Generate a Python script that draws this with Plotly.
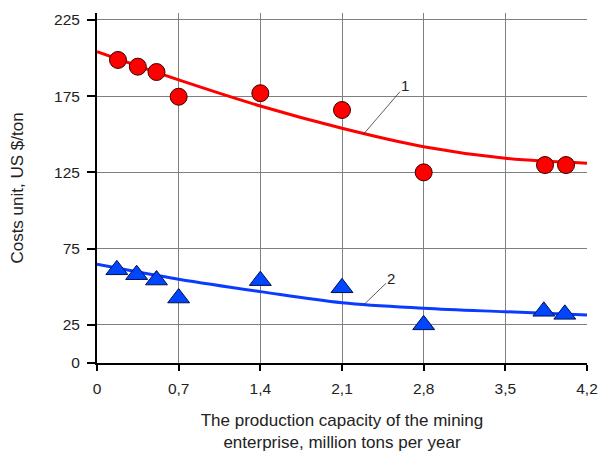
import plotly.graph_objects as go

# --- data ---
x_ticks = [0, 0.7, 1.4, 2.1, 2.8, 3.5, 4.2]
x_ticktext = ["0", "0,7", "1,4", "2,1", "2,8", "3,5", "4,2"]
y_ticks = [0, 25, 75, 125, 175, 225]

red_x = [0.18, 0.35, 0.51, 0.70, 1.40, 2.10, 2.80, 3.84, 4.02]
red_y = [198.7, 194.3, 190.8, 174.6, 176.9, 165.9, 125.0, 129.8, 129.8]

blue_x = [0.17, 0.34, 0.51, 0.70, 1.40, 2.10, 2.80, 3.83, 4.01]
blue_y = [61.1, 57.9, 54.4, 42.6, 54.0, 49.3, 25.0, 33.9, 31.9]

curve_x = [0, 0.7, 1.4, 2.1, 2.8, 3.5, 4.2]
red_curve = [204.1, 185.6, 168.5, 153.9, 141.8, 134.2, 131.0]
blue_curve = [64.7, 54.9, 46.8, 39.5, 35.9, 33.6, 31.5]

FONT = "Liberation Sans, Arial, sans-serif"
RED = "#ff0000"
BLUE = "#0a3cff"
BLUE_M = "#0046ff"
TXT = "#222222"

fig = go.Figure()
fig.add_trace(go.Scatter(x=curve_x, y=red_curve, mode="lines",
                         line=dict(color=RED, width=3, shape="spline"),
                         hoverinfo="skip", showlegend=False))
fig.add_trace(go.Scatter(x=curve_x, y=blue_curve, mode="lines",
                         line=dict(color=BLUE, width=3, shape="spline"),
                         hoverinfo="skip", showlegend=False))
fig.add_trace(go.Scatter(x=red_x, y=red_y, mode="markers",
                         marker=dict(symbol="circle", size=17, color=RED,
                                     line=dict(color="#3a0000", width=1)),
                         showlegend=False, cliponaxis=False))
fig.add_trace(go.Scatter(x=blue_x, y=blue_y, mode="markers",
                         marker=dict(symbol="triangle-up", size=19, color=BLUE_M,
                                     line=dict(color="#001050", width=1)),
                         showlegend=False, cliponaxis=False))

fig.add_annotation(x=2.284, y=150.0, text="1", showarrow=True, arrowhead=0,
                   arrowwidth=0.8, arrowcolor="#333333", ax=42, ay=-49,
                   font=dict(family=FONT, size=15, color=TXT))
fig.add_annotation(x=2.284, y=38.0, text="2", showarrow=True, arrowhead=0,
                   arrowwidth=0.8, arrowcolor="#333333", ax=28, ay=-27,
                   font=dict(family=FONT, size=15, color=TXT))

fig.update_layout(
    width=600, height=452,
    margin=dict(l=97, r=13, t=13, b=89, autoexpand=False),
    paper_bgcolor="white", plot_bgcolor="white",
    font=dict(family=FONT, size=15, color=TXT),
    xaxis=dict(
        range=[0, 4.2], tickvals=x_ticks, ticktext=x_ticktext,
        showgrid=True, gridcolor="#7f7f7f", gridwidth=1,
        showline=True, linecolor="black", linewidth=2,
        ticks="outside", ticklen=6, tickwidth=2, tickcolor="black",
        zeroline=False, automargin=False, ticklabelstandoff=4,
        tickfont=dict(family=FONT, size=15.5, color=TXT),
        title=dict(text="The production capacity of the mining<br>enterprise, million tons per year",
                   font=dict(family=FONT, size=17, color=TXT), standoff=24),
    ),
    yaxis=dict(
        range=[0, 229.5], tickvals=y_ticks,
        showgrid=True, gridcolor="#7f7f7f", gridwidth=1,
        showline=True, linecolor="black", linewidth=2,
        ticks="outside", ticklen=8, tickwidth=2, tickcolor="black",
        zeroline=False, automargin=False, ticklabelstandoff=4,
        tickfont=dict(family=FONT, size=15.5, color=TXT),
        title=dict(text="Costs unit, US $/ton",
                   font=dict(family=FONT, size=17, color=TXT), standoff=26),
    ),
)

fig.write_html(
    "out.html",
    config={"displayModeBar": False},
    post_script="document.body.style.margin='0';document.body.style.overflow='hidden';",
)
